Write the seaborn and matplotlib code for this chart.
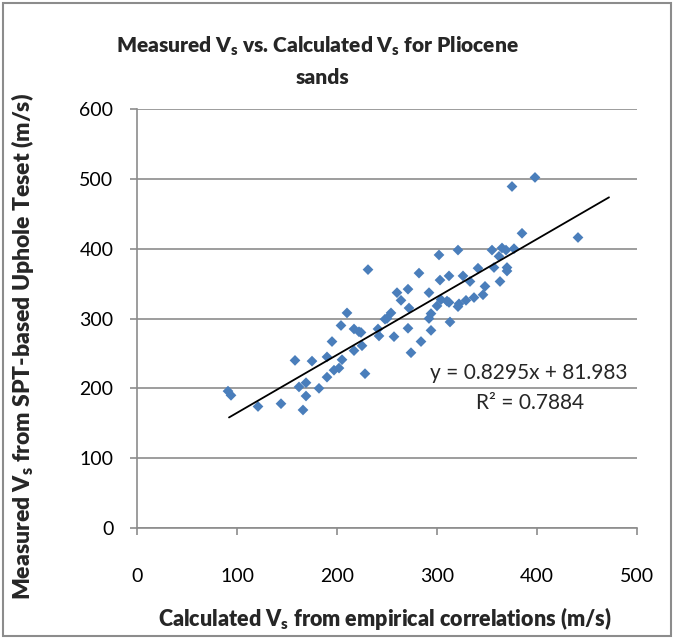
import matplotlib
matplotlib.use("Agg")
import matplotlib.pyplot as plt
from matplotlib.patches import Rectangle
import pandas as pd
import seaborn as sns

# Calculated Vs (empirical correlations) and measured Vs (SPT-based uphole test), m/s
calc_vs = [91, 94, 121, 144, 158, 162, 169, 169, 166, 175, 182, 190, 190, 195, 197,
           202, 205, 204, 210, 217, 222, 217, 225, 228, 231, 241, 242, 250, 254, 257,
           260, 224, 248, 264, 271, 272, 271, 274, 282, 284, 292, 294, 292, 294, 300,
           302, 303, 304, 312, 312, 313, 321, 322, 321, 326, 329, 333, 337, 341, 346,
           348, 355, 357, 363, 362, 365, 370, 370, 377, 375, 385, 398, 441, 369, 310]
meas_vs = [196, 190, 174, 178, 240, 202, 208, 189, 169, 239, 200, 216, 245, 267, 226,
           229, 241, 290, 308, 285, 281, 254, 261, 221, 370, 285, 275, 300, 308, 274,
           337, 280, 299, 326, 342, 315, 286, 251, 365, 267, 337, 283, 300, 307, 318,
           391, 355, 327, 361, 323, 295, 398, 321, 317, 361, 326, 353, 330, 372, 334,
           346, 398, 373, 353, 389, 401, 373, 368, 400, 489, 422, 502, 416, 398, 325]

# Linear trendline
slope = 0.8295
intercept = 81.983
r_squared = 0.7884
trend_x = [92, 472]

x_ticks = [0, 100, 200, 300, 400, 500]
y_ticks = [0, 100, 200, 300, 400, 500, 600]

sns.set_style("white")
plt.rcParams["font.family"] = ["Lato", "DejaVu Sans"]
plt.rcParams["mathtext.fontset"] = "custom"
plt.rcParams["mathtext.rm"] = "Lato:heavy"
plt.rcParams["mathtext.default"] = "regular"

HEAVY = "heavy"

fig = plt.figure(figsize=(6.74, 6.39), dpi=100)
ax = fig.add_axes([137 / 674, 1 - 528 / 639, 500 / 674, 419 / 639])

df = pd.DataFrame({"calc": calc_vs, "meas": meas_vs})
sns.scatterplot(data=df, x="calc", y="meas", marker="D", s=30, color="#4A7EBB",
                edgecolor="none", ax=ax, zorder=3)

trend = pd.DataFrame({"x": trend_x, "y": [slope * v + intercept for v in trend_x]})
sns.lineplot(data=trend, x="x", y="y", color="black", linewidth=1.3, ax=ax, zorder=4)

ax.set_xlim(0, 500)
ax.set_ylim(0, 600)
ax.set_xticks(x_ticks)
ax.set_yticks(y_ticks)
ax.yaxis.grid(True, color="#8C8C8C", linewidth=1.2)
ax.xaxis.grid(False)
ax.set_axisbelow(True)
for side in ("top", "right"):
    ax.spines[side].set_visible(False)
for side in ("left", "bottom"):
    ax.spines[side].set_color("#8C8C8C")
    ax.spines[side].set_linewidth(1.2)
ax.tick_params(axis="x", direction="out", length=5, width=1.2, color="#8C8C8C",
               pad=24, labelsize=14, labelcolor="black", bottom=True)
ax.tick_params(axis="y", direction="out", length=5, width=1.2, color="#8C8C8C",
               pad=12, labelsize=14, labelcolor="black", left=True)

ax.set_xlabel("")
ax.set_ylabel("")
fig.text(385 / 674, 1 - 619 / 639, "Calculated V$_s$ from empirical correlations (m/s)",
         ha="center", va="center", fontsize=15.5, fontweight=HEAVY)
fig.text(23 / 674, 1 - 346 / 639, "Measured V$_s$ from SPT-based Uphole Teset (m/s)",
         ha="center", va="center", rotation=90, fontsize=16.5, fontweight=HEAVY)
fig.text(317 / 674, 1 - 46 / 639, "Measured V$_s$ vs. Calculated V$_s$ for Pliocene",
         ha="center", va="center", fontsize=15, fontweight=HEAVY)
fig.text(322 / 674, 1 - 78 / 639, "sands",
         ha="center", va="center", fontsize=15, fontweight=HEAVY)

ax.text(0.982, 0.37, f"y = {slope}x + {intercept}", transform=ax.transAxes,
        ha="right", va="center", fontsize=15)
ax.text(0.786, 0.298, f"R\u00b2 = {r_squared}", transform=ax.transAxes,
        ha="center", va="center", fontsize=15)

fig.patches.append(Rectangle((3 / 674, 3 / 639), 668 / 674, 633 / 639,
                             transform=fig.transFigure, fill=False,
                             edgecolor="#8C8C8C", linewidth=1.5))

fig.savefig("out.png", dpi=100)
